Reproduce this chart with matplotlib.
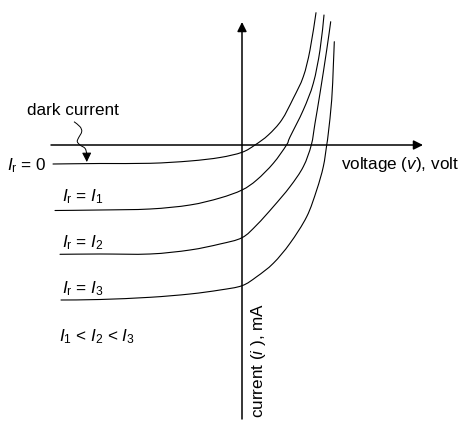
import matplotlib
matplotlib.use("Agg")
import matplotlib.pyplot as plt
from matplotlib.path import Path
from matplotlib.patches import PathPatch

plt.rcParams['font.family'] = ['Liberation Sans', 'DejaVu Sans']
plt.rcParams['mathtext.fontset'] = 'custom'
plt.rcParams['mathtext.rm'] = 'Liberation Sans'
plt.rcParams['mathtext.it'] = 'Liberation Sans:italic'
plt.rcParams['mathtext.bf'] = 'Liberation Sans:bold'

# I-V curves of a photodiode (voltage, current) (arbitrary units)
v0 = [-189, -142, -92, -52, -22, 0, 13, 26.3, 39.7, 51.3, 61.3, 68, 74]
i0 = [-19, -18.5, -18.3, -16, -12.5, -7.3, 0, 10, 25, 46.7, 68.3, 95, 132.3]

v1 = [-187, -142, -92, -52, -22, 0, 14.7, 31.3, 44.5, 48, 61.3, 71.3, 78, 82]
i1 = [-65.5, -65, -64, -60, -53, -45, -35, -18.3, 0, 8, 35, 61.7, 95, 130]

v2 = [-182, -142, -92, -52, -22, 0, 14.7, 31.3, 48, 61.3, 69.3, 73, 78, 84.7, 88.7]
i2 = [-109.3, -109, -109, -105, -99, -92.7, -80, -61.7, -41.7, -21.7, 0, 21.7, 51.7, 95, 123.3]

v3 = [-181, -142, -92, -52, -22, 0, 14.7, 31.3, 48, 64.7, 74.7, 81.3, 84.7, 86.3, 89.7, 91.3, 92.3]
i3 = [-155, -154.5, -152.3, -149, -145, -140.7, -131.7, -118.3, -98.3, -71.7, -45, -21.7, 0, 11.7, 45, 78.3, 103.3]

curves = [(v0, i0), (v1, i1), (v2, i2), (v3, i3)]
labels = [r"$I_\mathrm{r}$ = 0", r"$I_\mathrm{r}$ = $I_1$", r"$I_\mathrm{r}$ = $I_2$", r"$I_\mathrm{r}$ = $I_3$"]


def smooth_path(xs, ys):
    """Cubic Bezier path through the given points (Catmull-Rom handles)."""
    pts = list(zip(xs, ys))
    verts = [pts[0]]
    codes = [Path.MOVETO]
    n = len(pts)
    for k in range(n - 1):
        p0 = pts[k - 1] if k > 0 else pts[k]
        p1 = pts[k]
        p2 = pts[k + 1]
        p3 = pts[k + 2] if k + 2 < n else pts[k + 1]
        c1 = (p1[0] + (p2[0] - p0[0]) / 6.0, p1[1] + (p2[1] - p0[1]) / 6.0)
        c2 = (p2[0] - (p3[0] - p1[0]) / 6.0, p2[1] - (p3[1] - p1[1]) / 6.0)
        verts += [c1, c2, p2]
        codes += [Path.CURVE4] * 3
    return Path(verts, codes)


fig = plt.figure(figsize=(4.74, 4.34), dpi=100)
ax = fig.add_axes([0, 0, 1, 1])
ax.set_xlim(-242, 232)
ax.set_ylim(-289, 145)
ax.axis('off')

# axes with arrows
ax.annotate('', xy=(181, 0), xytext=(-191, 0),
            arrowprops=dict(arrowstyle='-|>', color='black', lw=1.1,
                            mutation_scale=14, shrinkA=0, shrinkB=0))
ax.annotate('', xy=(0, 123), xytext=(0, -274),
            arrowprops=dict(arrowstyle='-|>', color='black', lw=1.1,
                            mutation_scale=14, shrinkA=0, shrinkB=0))

for v, i in curves:
    ax.add_patch(PathPatch(smooth_path(v, i), facecolor='none', edgecolor='black',
                           lw=0.8, capstyle='round'))

# curve labels
ax.text(-215.5, -21.0, labels[0], fontsize=12.3, ha='center', va='center')
ax.text(-159.5, -52.0, labels[1], fontsize=12.3, ha='center', va='center')
ax.text(-159.0, -98.0, labels[2], fontsize=12.3, ha='center', va='center')
ax.text(-159.0, -144.0, labels[3], fontsize=12.3, ha='center', va='center')
ax.text(-145.0, -192.0, r"$I_1$ < $I_2$ < $I_3$", fontsize=12.3, ha='center', va='center')

ax.text(-169.5, 34.3, "dark current", fontsize=12.3, ha='center', va='center')
ax.text(158.5, -19.0, r"voltage ($v$), volt", fontsize=12.3, ha='center', va='center')
ax.text(16.3, -215.0, r"current ($i$ ), mA", fontsize=12.3, ha='center', va='center',
        rotation=90)

# squiggly pointer to the dark current
sq_v = [-168, -162, -160.3, -163.7, -164.7, -162, -157, -155.3]
sq_i = [23.3, 18.3, 13.3, 6.7, 3.3, 0, -3.3, -8.3]
ax.add_patch(PathPatch(smooth_path(sq_v, sq_i), facecolor='none', edgecolor='black', lw=0.7))
ax.annotate('', xy=(-155.2, -17), xytext=(-155.3, -8),
            arrowprops=dict(arrowstyle='-|>', color='black', lw=0.7,
                            mutation_scale=14, shrinkA=0, shrinkB=0))

fig.savefig('out.png', dpi=100)
